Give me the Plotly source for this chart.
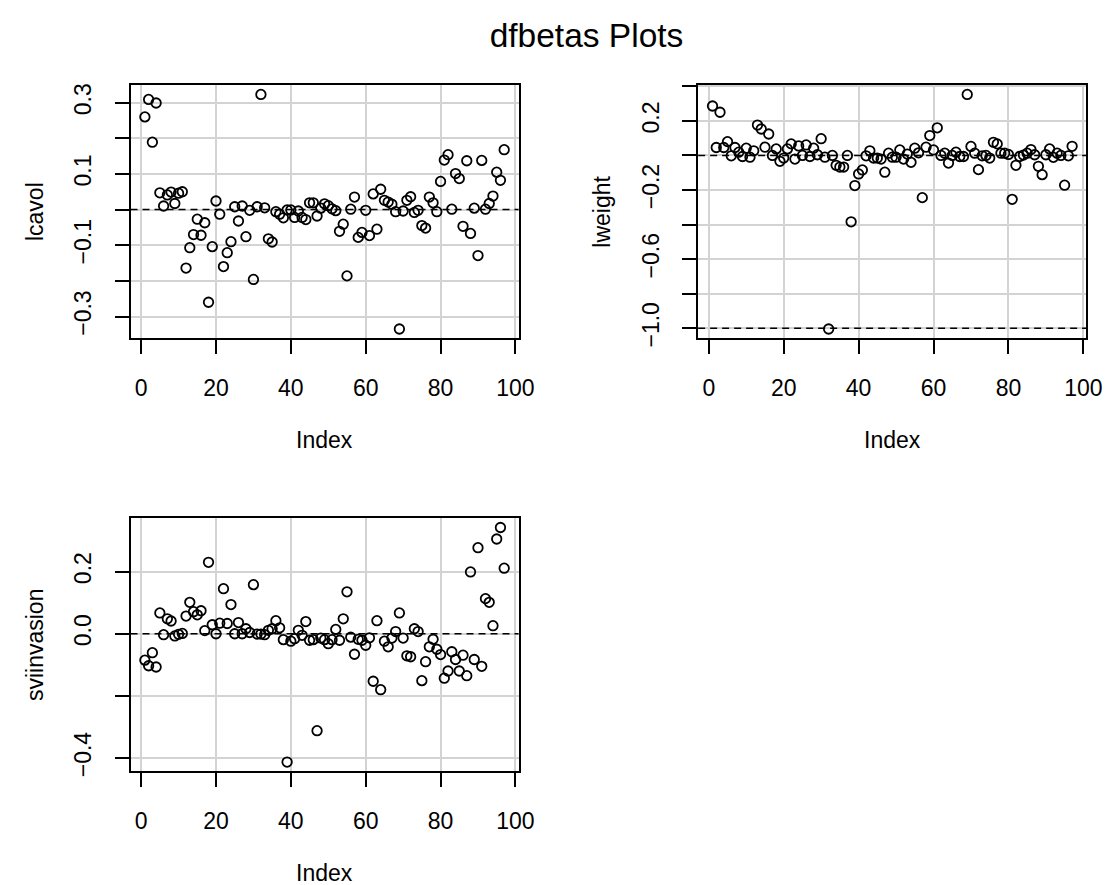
import plotly.graph_objects as go

index = list(range(1, 98))

lcavol = [0.260, 0.309, 0.189, 0.299, 0.047, 0.010, 0.041, 0.049, 0.017, 0.046,
          0.050, -0.164, -0.107, -0.070, -0.027, -0.072, -0.037, -0.260, -0.104, 0.024,
          -0.013, -0.160, -0.121, -0.090, 0.008, -0.032, 0.010, -0.076, -0.002, -0.196,
          0.008, 0.323, 0.005, -0.082, -0.091, -0.006, -0.013, -0.023, -0.001, -0.001,
          -0.022, -0.004, -0.022, -0.028, 0.019, 0.019, -0.018, 0.004, 0.016, 0.011,
          0.002, -0.003, -0.061, -0.041, -0.186, 0.001, 0.035, -0.078, -0.064, -0.002,
          -0.073, 0.044, -0.055, 0.057, 0.026, 0.021, 0.015, -0.006, -0.335, -0.004,
          0.026, 0.036, -0.008, -0.002, -0.045, -0.052, 0.035, 0.019, -0.006, 0.079,
          0.139, 0.154, 0.001, 0.101, 0.087, -0.047, 0.137, -0.067, 0.004, -0.129,
          0.138, 0.001, 0.017, 0.038, 0.105, 0.082, 0.168]

lweight = [0.286, 0.046, 0.250, 0.046, 0.080, -0.002, 0.046, 0.019, -0.006, 0.042,
           -0.010, 0.027, 0.176, 0.153, 0.048, 0.124, 0.000, 0.038, -0.034, -0.015,
           0.038, 0.067, -0.021, 0.055, 0.000, 0.061, -0.006, 0.042, 0.004, 0.097,
           -0.010, -1.004, 0.000, -0.057, -0.067, -0.067, 0.000, -0.384, -0.174, -0.107,
           -0.084, -0.002, 0.027, -0.015, -0.015, -0.021, -0.097, 0.013, -0.010, -0.010,
           0.032, -0.021, 0.008, -0.040, 0.042, 0.015, -0.244, 0.048, 0.115, 0.032,
           0.160, 0.000, 0.013, -0.044, 0.000, 0.019, -0.006, -0.006, 0.353, 0.052,
           0.013, -0.082, -0.002, 0.000, -0.015, 0.076, 0.067, 0.013, 0.013, 0.006,
           -0.254, -0.057, -0.006, 0.002, 0.013, 0.034, 0.004, -0.063, -0.111, 0.004,
           0.038, -0.011, 0.013, 0.000, -0.172, -0.002, 0.053]

sviinvasion = [-0.085, -0.103, -0.061, -0.107, 0.067, -0.003, 0.048, 0.041, -0.007, -0.002,
               0.001, 0.057, 0.101, 0.071, 0.061, 0.074, 0.010, 0.230, 0.029, 0.000,
               0.034, 0.145, 0.033, 0.094, 0.000, 0.036, 0.000, 0.016, 0.004, 0.158,
               -0.001, -0.001, -0.003, 0.011, 0.016, 0.042, 0.019, -0.019, -0.413, -0.024,
               -0.016, 0.011, -0.005, 0.039, -0.021, -0.019, -0.312, -0.014, -0.019, -0.032,
               -0.019, 0.014, -0.021, 0.048, 0.135, -0.011, -0.066, -0.018, -0.021, -0.037,
               -0.013, -0.153, 0.042, -0.180, -0.024, -0.042, -0.014, 0.007, 0.067, -0.014,
               -0.071, -0.074, 0.016, 0.007, -0.151, -0.090, -0.042, -0.018, -0.050, -0.067,
               -0.143, -0.120, -0.058, -0.083, -0.120, -0.069, -0.135, 0.199, -0.083, 0.277,
               -0.105, 0.113, 0.101, 0.026, 0.305, 0.342, 0.211]

x_ticks = [0, 20, 40, 60, 80, 100]
x_tick_labels = ["0", "20", "40", "60", "80", "100"]

lcavol_ticks = [-0.3, -0.2, -0.1, 0.0, 0.1, 0.2, 0.3]
lcavol_tick_labels = ["\u22120.3", "", "\u22120.1", "", "0.1", "", "0.3"]
lweight_ticks = [-1.0, -0.8, -0.6, -0.4, -0.2, 0.0, 0.2, 0.4]
lweight_tick_labels = ["\u22121.0", "", "\u22120.6", "", "\u22120.2", "", "0.2", ""]
svi_ticks = [-0.4, -0.2, 0.0, 0.2]
svi_tick_labels = ["\u22120.4", "", "0.0", "0.2"]

ref_lines = {"lcavol": [0.0], "lweight": [0.0, -1.0], "sviinvasion": [0.0]}

panels = [
    ("lcavol", lcavol, lcavol_ticks, lcavol_tick_labels, "x", "y"),
    ("lweight", lweight, lweight_ticks, lweight_tick_labels, "x2", "y2"),
    ("sviinvasion", sviinvasion, svi_ticks, svi_tick_labels, "x3", "y3"),
]

W, H = 1114, 885
# plot boxes in pixels: left, right, top, bottom
boxes = {
    "x": (124.3, 518.0, 76.0, 332.5),
    "x2": (700.2, 1094.2, 76.0, 332.5),
    "x3": (124.3, 518.0, 514.5, 771.0),
}

FONT = "Liberation Sans, Arial, sans-serif"
FS = 23


def ext_range(vals):
    lo, hi = min(vals), max(vals)
    d = (hi - lo) * 0.04
    return [lo - d, hi + d]


layout = dict(
    width=W, height=H,
    margin=dict(l=0, r=0, t=0, b=0),
    paper_bgcolor="white", plot_bgcolor="white",
    showlegend=False,
    font=dict(family=FONT, color="black", size=FS),
    title=dict(text="dfbetas Plots", x=578.5 / W, xanchor="center",
               y=1 - 27 / H, yanchor="middle",
               font=dict(size=33.5, family=FONT, color="black")),
    shapes=[],
    annotations=[],
)

axis_common = dict(
    showline=True, mirror=True, linecolor="black", linewidth=2,
    ticks="outside", ticklen=14, tickwidth=2, tickcolor="black",
    showgrid=True, gridcolor="#d3d3d3", gridwidth=1.5, zeroline=False,
    tickfont=dict(size=FS, family=FONT, color="black"),
)

xr = ext_range(index)

fig = go.Figure()
for name, vals, yt, ytl, xa, ya in panels:
    fig.add_trace(go.Scatter(
        x=index, y=vals, mode="markers", xaxis=xa, yaxis=ya,
        marker=dict(symbol="circle-open", size=9.5, color="black",
                    line=dict(width=1.8, color="black")),
        hoverinfo="skip"))
    left, right, top, bottom = boxes[xa]
    xkey = "xaxis" if xa == "x" else "xaxis" + xa[1:]
    ykey = "yaxis" if ya == "y" else "yaxis" + ya[1:]
    layout[xkey] = dict(
        axis_common, domain=[left / W, right / W], anchor=ya, range=xr,
        tickvals=x_ticks, ticktext=x_tick_labels, ticklabelstandoff=14,
    )
    layout[ykey] = dict(
        axis_common, domain=[1 - bottom / H, 1 - top / H], anchor=xa,
        range=ext_range(vals), tickvals=yt, ticktext=ytl, tickangle=-90,
        ticklabelstandoff=14,
    )
    # axis titles (R: mgp line 3)
    layout["annotations"].append(dict(
        text="Index", xref="paper", yref="paper",
        x=(left + right) / 2 / W, y=1 - (bottom + 102.5) / H,
        xanchor="center", yanchor="middle", showarrow=False,
        font=dict(size=FS, family=FONT, color="black")))
    layout["annotations"].append(dict(
        text=name, xref="paper", yref="paper", textangle=-90,
        x=(left - 97.6) / W, y=1 - (top + bottom) / 2 / H,
        xanchor="center", yanchor="middle", showarrow=False,
        font=dict(size=FS, family=FONT, color="black")))
    for v in ref_lines[name]:
        layout["shapes"].append(dict(
            type="line", xref=xa + " domain", yref=ya, x0=0, x1=1, y0=v, y1=v,
            line=dict(color="black", width=1.5, dash="7px,5px"), layer="above"))

fig.update_layout(**layout)
fig.write_html("out.html")
